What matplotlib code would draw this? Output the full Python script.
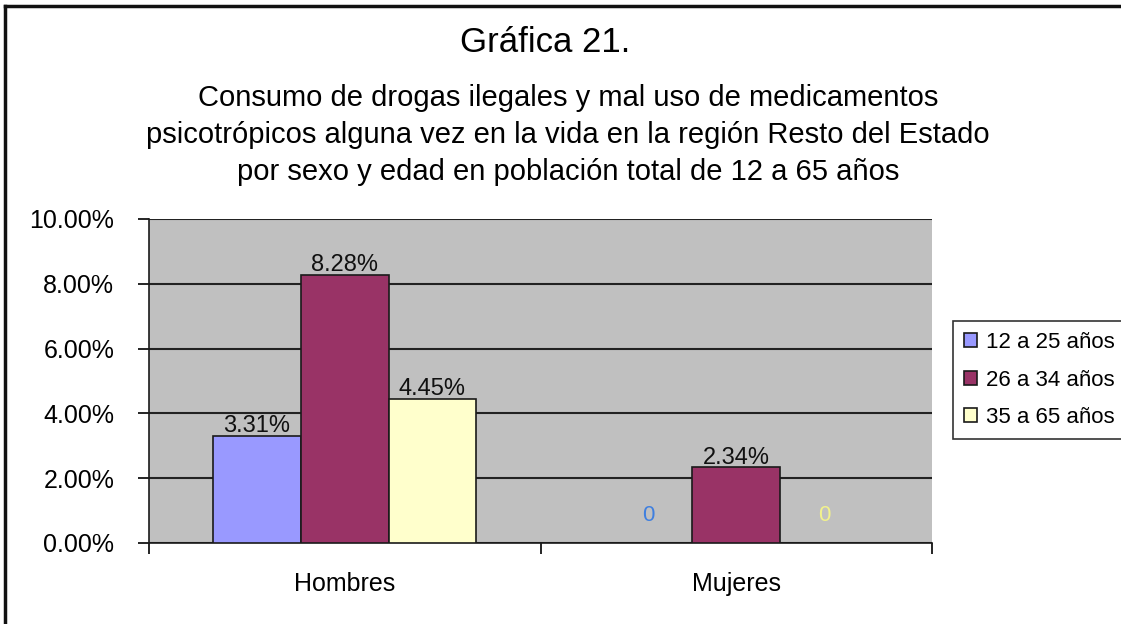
import matplotlib.pyplot as plt
import numpy as np
from matplotlib.lines import Line2D

plt.rcParams['font.family'] = ['Liberation Sans', 'DejaVu Sans']

categories = ['Hombres', 'Mujeres']
series_names = ['12 a 25 años', '26 a 34 años', '35 a 65 años']
values = [
    [3.31, 0.0],   # 12 a 25
    [8.28, 2.34],  # 26 a 34
    [4.45, 0.0],   # 35 a 65
]
colors = ['#9999FF', '#993366', '#FFFFCC']
zero_label_colors = ['#3F7FDF', '#993366', '#F2F28C']
y_ticks = [0, 2, 4, 6, 8, 10]

W, H = 1121, 624
fig = plt.figure(figsize=(W / 100, H / 100), dpi=100)
ax = fig.add_axes([149 / W, 1 - 543 / H, (932 - 149) / W, (543 - 219) / H])
ax.set_facecolor('#C0C0C0')

x = np.arange(len(categories))
bw = 0.224
for i, (name, vals) in enumerate(zip(series_names, values)):
    pos = x + (i - 1) * bw
    ax.bar(pos, vals, bw, color=colors[i], edgecolor='#1a1a1a',
           linewidth=1.2, label=name, zorder=3)
    for px, v in zip(pos, vals):
        if v > 0:
            ax.annotate(f'{v:.2f}%', (px, v), xytext=(0, -1),
                        textcoords='offset points', ha='center', va='bottom',
                        fontsize=17, color='#111111', zorder=4)
        else:
            ax.annotate('0', (px, 0), xytext=(0, 20),
                        textcoords='offset points', ha='center', va='center',
                        fontsize=16, color=zero_label_colors[i], zorder=4)

ax.set_xlim(-0.5, 1.5)
ax.set_ylim(0, 10)
ax.set_yticks(y_ticks)
ax.set_yticklabels([f'{t:.2f}%' for t in y_ticks], fontsize=18)
ax.yaxis.grid(True, color='#222222', linewidth=1.5, zorder=1)
ax.set_axisbelow(True)

ax.set_xticks(x)
ax.set_xticklabels(categories, fontsize=18)
ax.set_xticks([-0.5, 0.5, 1.5], minor=True)
ax.tick_params(axis='x', which='major', length=0, pad=21)
ax.tick_params(axis='x', which='minor', length=8, width=1.2, direction='out')
ax.tick_params(axis='y', length=8, width=1.2, direction='out', pad=17)

for s in ['top', 'right']:
    ax.spines[s].set_visible(False)
for s in ['left', 'bottom']:
    ax.spines[s].set_linewidth(1.2)
    ax.spines[s].set_color('#1a1a1a')

leg = ax.legend(loc='center left', bbox_to_anchor=(953 / W, 1 - 380 / H),
                bbox_transform=fig.transFigure, fontsize=16, frameon=True,
                fancybox=False, edgecolor='black', handlelength=0.6,
                handleheight=0.6, handletextpad=0.4, labelspacing=0.75,
                borderpad=0.5, borderaxespad=0)
leg.get_frame().set_linewidth(1.2)

fig.text(545 / W, 1 - 43 / H, 'Gráfica 21.', ha='center',
         va='center', fontsize=25)
fig.text(568 / W, 1 - 135 / H,
         'Consumo de drogas ilegales y mal uso de medicamentos\n'
         'psicotrópicos alguna vez en la vida en la región Resto del Estado\n'
         'por sexo y edad en población total de 12 a 65 años',
         ha='center', va='center', fontsize=21, linespacing=1.4)

fig.add_artist(Line2D([5 / W, 1], [1 - 6 / H, 1 - 6 / H], color='#111111',
                      linewidth=2.5, transform=fig.transFigure))
fig.add_artist(Line2D([5 / W, 5 / W], [0, 1 - 6 / H], color='#111111',
                      linewidth=2.5, transform=fig.transFigure))

fig.savefig('out.png', dpi=100)
